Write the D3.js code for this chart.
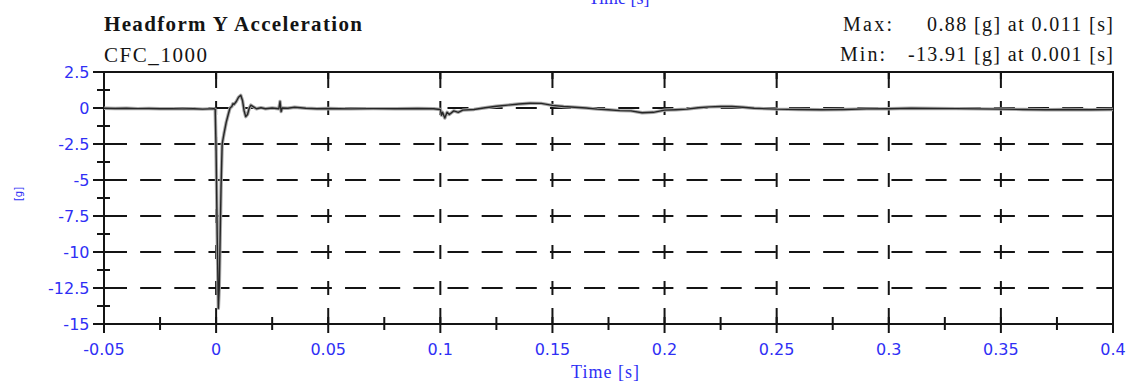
<!DOCTYPE html>
<html><head><meta charset="utf-8">
<script src="https://cdnjs.cloudflare.com/ajax/libs/d3/7.8.5/d3.min.js"></script>
<style>html,body{margin:0;padding:0;background:#fff;}svg{display:block;}</style>
</head><body>
<svg id="chart" width="1128" height="383"></svg>
<script>
// ---- data ----
const xTicks = [-0.05, 0, 0.05, 0.1, 0.15, 0.2, 0.25, 0.3, 0.35, 0.4];
const xTickLabels = ["-0.05", "0", "0.05", "0.1", "0.15", "0.2", "0.25", "0.3", "0.35", "0.4"];
const xMinorTicks = [-0.025, 0.025, 0.075, 0.125, 0.175, 0.225, 0.275, 0.325, 0.375];
const yTicks = [2.5, 0, -2.5, -5, -7.5, -10, -12.5, -15];
const yTickLabels = ["2.5", "0", "-2.5", "-5", "-7.5", "-10", "-12.5", "-15"];
const yMinorTicks = [1.25, -1.25, -3.75, -6.25, -8.75, -11.25, -13.75];
const yGrid = [0, -2.5, -5, -7.5, -10, -12.5];
const xGrid = [0, 0.05, 0.1, 0.15, 0.2, 0.25, 0.3, 0.35];

const time = [-0.05,-0.045,-0.04,-0.035,-0.03,-0.025,-0.02,-0.015,-0.01,-0.006,-0.003,-0.001,-0.0004,
  0.0,0.0005,0.001,0.0014,0.0018,0.0022,0.0027,0.0035,0.0045,0.0055,0.0062,0.007,0.0075,0.008,0.009,0.010,0.011,
  0.0118,0.0125,0.0132,0.014,0.0148,0.0155,0.0165,0.018,0.02,0.022,0.025,0.028,0.0285,0.029,0.0295,0.032,0.035,
  0.04,0.045,0.05,0.06,0.07,0.08,0.09,0.097,0.1,0.1005,0.101,0.102,0.103,0.104,0.106,0.108,0.11,0.115,0.12,0.125,
  0.13,0.135,0.14,0.145,0.15,0.155,0.16,0.165,0.17,0.175,0.18,0.185,0.19,0.195,0.2,0.205,0.21,0.215,0.22,0.225,
  0.23,0.235,0.24,0.25,0.26,0.27,0.28,0.29,0.3,0.31,0.32,0.33,0.34,0.35,0.36,0.37,0.38,0.39,0.4];
const accel = [-0.02,-0.03,-0.02,-0.04,-0.03,-0.05,-0.04,-0.06,-0.05,-0.08,-0.06,-0.05,-0.1,
  -3.0,-9.0,-13.91,-12.5,-9.0,-5.5,-2.5,-1.8,-1.0,-0.4,0.0,0.1,0.3,0.25,0.45,0.75,0.88,
  0.5,-0.2,-0.6,-0.45,0.0,0.2,0.1,-0.05,0.02,-0.05,0.0,-0.05,0.45,-0.25,0.0,-0.02,0.05,
  -0.02,-0.05,-0.03,-0.06,-0.04,-0.05,-0.03,-0.05,-0.1,-0.5,-0.3,-0.7,-0.3,-0.45,-0.2,-0.3,-0.15,-0.1,0.02,0.12,
  0.2,0.28,0.33,0.32,0.18,0.1,0.05,0.0,-0.08,-0.12,-0.18,-0.2,-0.33,-0.3,-0.15,-0.12,-0.08,0.02,0.08,0.1,
  0.1,0.05,-0.02,-0.08,-0.1,-0.12,-0.1,-0.06,-0.05,-0.02,-0.03,-0.04,-0.06,-0.08,-0.1,-0.12,-0.1,-0.12,-0.1];

const title = "Headform Y Acceleration";
const subtitle = "CFC_1000";
const maxLabel = "Max:", maxText = "0.88 [g] at 0.011 [s]";
const minLabel = "Min:", minText = "-13.91 [g] at 0.001 [s]";
const xTitle = "Time [s]";
const yTitle = "[g]";

// ---- drawing ----
const svg = d3.select("#chart");
const x = d3.scaleLinear().domain([-0.05, 0.4]).range([104, 1113]);
const y = d3.scaleLinear().domain([-15, 2.5]).range([324, 72]);
const blue = "#2f2ff5";
const ink = "#141414";

// horizontal dashed gridlines
const step = 34.15, dash = 21;
svg.append("g").selectAll("line").data(yGrid).join("line")
  .attr("x1", x(-0.05)).attr("x2", x(0.4))
  .attr("y1", d => y(d)).attr("y2", d => y(d))
  .attr("stroke", ink).attr("stroke-width", 2)
  .attr("stroke-dasharray", `${dash},${step - dash}`)
  .attr("stroke-dashoffset", step - 2);

// vertical grid: short dashes centered on horizontal gridlines
const ystep = y(0) - y(2.5);
const vd = 14;
svg.append("g").selectAll("line").data(xGrid).join("line")
  .attr("x1", d => x(d)).attr("x2", d => x(d))
  .attr("y1", y(2.5)).attr("y2", y(-15))
  .attr("stroke", ink).attr("stroke-width", 2)
  .attr("stroke-dasharray", `${vd},${ystep - vd}`)
  .attr("stroke-dashoffset", vd / 2);

// top inward ticks and bottom crossing ticks
const tg = svg.append("g").attr("stroke", ink).attr("stroke-width", 2);
tg.selectAll(".tt").data(xGrid).join("line").attr("class", "tt")
  .attr("x1", d => x(d)).attr("x2", d => x(d))
  .attr("y1", y(2.5)).attr("y2", y(2.5) + 16);
tg.selectAll(".bt").data(xTicks).join("line").attr("class", "bt")
  .attr("x1", d => x(d)).attr("x2", d => x(d))
  .attr("y1", y(-15) - 16).attr("y2", y(-15) + 9);
tg.selectAll(".bm").data(xMinorTicks).join("line").attr("class", "bm")
  .attr("x1", d => x(d)).attr("x2", d => x(d))
  .attr("y1", y(-15) - 7).attr("y2", y(-15) + 6);
// left axis ticks
tg.selectAll(".lt").data(yTicks).join("line").attr("class", "lt")
  .attr("x1", x(-0.05) - 11).attr("x2", x(-0.05) + 11)
  .attr("y1", d => y(d)).attr("y2", d => y(d));
tg.selectAll(".lm").data(yMinorTicks).join("line").attr("class", "lm")
  .attr("x1", x(-0.05) - 7).attr("x2", x(-0.05) + 6)
  .attr("y1", d => y(d)).attr("y2", d => y(d));

// frame
svg.append("rect")
  .attr("x", x(-0.05)).attr("y", y(2.5))
  .attr("width", x(0.4) - x(-0.05)).attr("height", y(-15) - y(2.5))
  .attr("fill", "none").attr("stroke", ink).attr("stroke-width", 2);

// data line
const line = d3.line().x((d, i) => x(time[i])).y(d => y(d));
svg.append("path").datum(accel).attr("d", line)
  .attr("fill", "none").attr("stroke", "#a8a8a8").attr("stroke-width", 3.4)
  .attr("stroke-linejoin", "round");
svg.append("path").datum(accel).attr("d", line)
  .attr("fill", "none").attr("stroke", "#262626").attr("stroke-width", 1.4)
  .attr("stroke-linejoin", "round");

// tick labels
svg.append("g").selectAll("text").data(xTicks).join("text")
  .attr("x", d => x(d)).attr("y", 355)
  .attr("text-anchor", "middle")
  .attr("font-family", "DejaVu Sans").attr("font-size", 16).attr("fill", blue)
  .text((d, i) => xTickLabels[i]);
svg.append("g").selectAll("text").data(yTicks).join("text")
  .attr("x", 89.5).attr("y", d => y(d) + 6)
  .attr("text-anchor", "end")
  .attr("font-family", "DejaVu Sans").attr("font-size", 16).attr("fill", blue)
  .text((d, i) => yTickLabels[i]);

// axis titles
svg.append("text").attr("x", 605).attr("y", 378).attr("text-anchor", "middle")
  .attr("font-family", "Liberation Serif").attr("font-size", 18).attr("fill", blue)
  .attr("textLength", 68).attr("lengthAdjust", "spacing")
  .text(xTitle);
svg.append("text").attr("x", 619).attr("y", 4).attr("text-anchor", "middle")
  .attr("font-family", "Liberation Serif").attr("font-size", 18).attr("fill", blue)
  .text(xTitle);
svg.append("text").attr("transform", "translate(22,194) rotate(-90)")
  .attr("text-anchor", "middle")
  .attr("font-family", "DejaVu Sans").attr("font-size", 10).attr("fill", blue)
  .text(yTitle);

// titles
function serif(txt, xx, yy, len, weight, size) {
  svg.append("text").attr("x", xx).attr("y", yy)
    .attr("font-family", "Liberation Serif").attr("font-size", size)
    .attr("font-weight", weight).attr("fill", ink)
    .attr("textLength", len).attr("lengthAdjust", "spacing")
    .text(txt);
}
serif(title, 104, 31, 258, "bold", 21);
serif(subtitle, 104, 62, 103, "normal", 21);
serif(maxLabel, 843, 31, 49, "normal", 20);
serif(minLabel, 840, 61, 45, "normal", 20);
serif(maxText, 927, 31, 186, "normal", 20);
serif(minText, 908, 61, 205, "normal", 20);
</script>
</body></html>
